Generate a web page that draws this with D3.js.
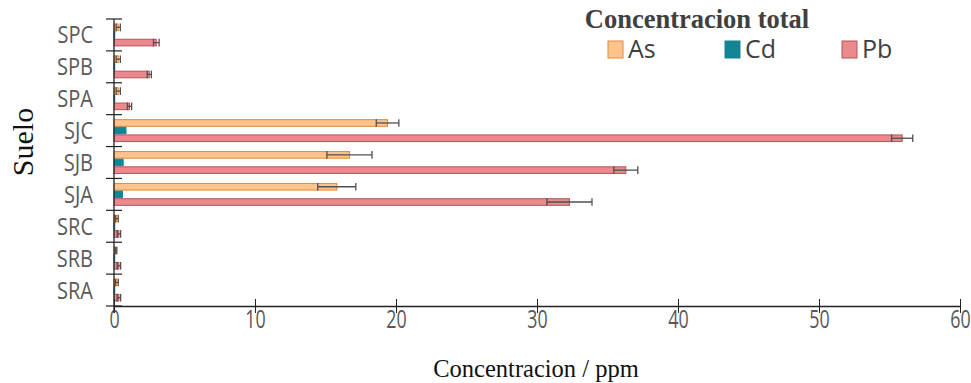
<!DOCTYPE html>
<html>
<head>
<meta charset="utf-8">
<script src="https://cdn.jsdelivr.net/npm/d3@7"></script>
<style>
  body { margin: 0; background: #fff; }
  svg { display: block; }
</style>
</head>
<body>
<div id="chart"></div>
<script>
// soil samples, bottom to top as drawn
var suelos = ["SRA", "SRB", "SRC", "SJA", "SJB", "SJC", "SPA", "SPB", "SPC"];
var metales = ["As", "Cd", "Pb"];

// concentration values (ppm) and error (±)
var asVals = [0.2, 0.15, 0.2, 15.8, 16.7, 19.4, 0.3, 0.3, 0.3];
var asErr  = [0.1, 0.05, 0.1, 1.35, 1.6, 0.8, 0.15, 0.15, 0.15];
var cdVals = [0.05, 0.05, 0.05, 0.6, 0.65, 0.85, 0.05, 0.05, 0.05];
var cdErr  = [0.02, 0.02, 0.02, 0.03, 0.03, 0.03, 0.02, 0.02, 0.02];
var pbVals = [0.35, 0.35, 0.35, 32.3, 36.3, 55.9, 1.1, 2.5, 3.0];
var pbErr  = [0.12, 0.12, 0.12, 1.6, 0.85, 0.75, 0.15, 0.15, 0.2];

var xTicks = [0, 10, 20, 30, 40, 50, 60];

var colors = { As: "#ffc38c", Cd: "#138494", Pb: "#ea8a8c" };
var strokes = { As: "#e0883c", Cd: "#138494", Pb: "#b4545c" };

var W = 971, H = 383;
var svg = d3.select("#chart").append("svg")
    .attr("width", W)
    .attr("height", H);

var x = d3.scaleLinear().domain([0, 60]).range([114, 960]);

// categories from top to bottom
var y = d3.scaleBand()
    .domain(suelos.slice().reverse())
    .range([19, 306])
    .padding(0);

var inner = d3.scaleBand()
    .domain(metales)
    .range([4.5, y.bandwidth() - 4.5])
    .padding(0);

var rows = [];
suelos.forEach(function(s, i) {
    rows.push({ suelo: s, metal: "As", value: asVals[i], err: asErr[i] });
    rows.push({ suelo: s, metal: "Cd", value: cdVals[i], err: cdErr[i] });
    rows.push({ suelo: s, metal: "Pb", value: pbVals[i], err: pbErr[i] });
});

//bars
svg.append("g").selectAll("rect")
    .data(rows)
    .enter().append("rect")
    .attr("x", x(0))
    .attr("y", function(d) { return y(d.suelo) + inner(d.metal) + 0.5; })
    .attr("width", function(d) { return x(d.value) - x(0); })
    .attr("height", inner.bandwidth() - 1)
    .attr("fill", function(d) { return colors[d.metal]; })
    .attr("stroke", function(d) { return strokes[d.metal]; })
    .attr("stroke-width", 1);

//error bars
var eb = svg.append("g")
    .attr("stroke", "#505050")
    .attr("stroke-width", 1.3)
    .selectAll("g")
    .data(rows.filter(function(d) { return d.metal != "Cd"; }))
    .enter().append("g");

eb.append("line")
    .attr("x1", function(d) { return x(Math.max(0, d.value - d.err)); })
    .attr("x2", function(d) { return x(d.value + d.err); })
    .attr("y1", function(d) { return y(d.suelo) + inner(d.metal) + inner.bandwidth() / 2; })
    .attr("y2", function(d) { return y(d.suelo) + inner(d.metal) + inner.bandwidth() / 2; });

eb.selectAll("line.cap")
    .data(function(d) { return [d.value - d.err, d.value + d.err].map(function(v) { return { v: Math.max(0, v), d: d }; }); })
    .enter().append("line")
    .attr("class", "cap")
    .attr("x1", function(c) { return x(c.v); })
    .attr("x2", function(c) { return x(c.v); })
    .attr("y1", function(c) { return y(c.d.suelo) + inner(c.d.metal); })
    .attr("y2", function(c) { return y(c.d.suelo) + inner(c.d.metal) + inner.bandwidth(); });

//x axis
var xAxis = svg.append("g")
    .attr("transform", "translate(0," + y.range()[1] + ")")
    .call(d3.axisBottom(x).tickValues(xTicks).tickSize(7).tickSizeOuter(0));
xAxis.select(".domain").attr("stroke", "#222").attr("stroke-width", 1.3);
xAxis.selectAll(".tick line").attr("y1", -7).attr("stroke", "#222");
xAxis.selectAll(".tick text")
    .attr("y", 0)
    .attr("dy", null)
    .attr("transform", "translate(0,22) scale(0.85,1.25)")
    .attr("font-family", "'Open Sans', sans-serif")
    .attr("font-size", 21)
    .attr("fill", "#595959");

//y axis with ticks on band edges
var yAxis = svg.append("g").attr("transform", "translate(" + x(0) + ",0)");
yAxis.append("line")
    .attr("y1", y.range()[0]).attr("y2", y.range()[1] + 7)
    .attr("stroke", "#222").attr("stroke-width", 1.3);
var edges = y.domain().map(function(s) { return y(s); }).concat([y.range()[1]]);
yAxis.selectAll("line.edge")
    .data(edges)
    .enter().append("line")
    .attr("class", "edge")
    .attr("x1", -8).attr("x2", 8)
    .attr("y1", function(d) { return d; })
    .attr("y2", function(d) { return d; })
    .attr("stroke", "#222").attr("stroke-width", 1.2);
yAxis.selectAll("text")
    .data(y.domain())
    .enter().append("text")
    .attr("transform", function(d) { return "translate(-21," + (y(d) + y.bandwidth() / 2 + 8.5) + ") scale(1,1.2)"; })
    .attr("text-anchor", "end")
    .attr("font-family", "'Open Sans', sans-serif")
    .attr("font-size", 20)
    .attr("fill", "#595959")
    .text(function(d) { return d; });

//axis titles
svg.append("text")
    .attr("transform", "translate(33,142) rotate(-90)")
    .attr("text-anchor", "middle")
    .attr("font-family", "'Liberation Serif', serif")
    .attr("font-size", 30)
    .attr("fill", "#111")
    .text("Suelo");

svg.append("text")
    .attr("x", 536)
    .attr("y", 377)
    .attr("text-anchor", "middle")
    .attr("font-family", "'Liberation Serif', serif")
    .attr("font-size", 24.5)
    .attr("fill", "#111")
    .text("Concentracion / ppm");

//legend
svg.append("text")
    .attr("x", 697)
    .attr("y", 28)
    .attr("text-anchor", "middle")
    .attr("font-family", "'Liberation Serif', serif")
    .attr("font-weight", "bold")
    .attr("font-size", 26.5)
    .attr("fill", "#404040")
    .text("Concentracion total");

var legX = [608, 725, 842];
var leg = svg.append("g").selectAll("g")
    .data(metales)
    .enter().append("g")
    .attr("transform", function(d, i) { return "translate(" + legX[i] + ",41)"; });
leg.append("rect")
    .attr("width", 15).attr("height", 17)
    .attr("fill", function(d) { return colors[d]; })
    .attr("stroke", function(d) { return strokes[d]; });
leg.append("text")
    .attr("x", 20)
    .attr("y", 17)
    .attr("font-family", "'Open Sans', sans-serif")
    .attr("font-size", 25)
    .attr("fill", "#404040")
    .text(function(d) { return d; });
</script>
</body>
</html>
